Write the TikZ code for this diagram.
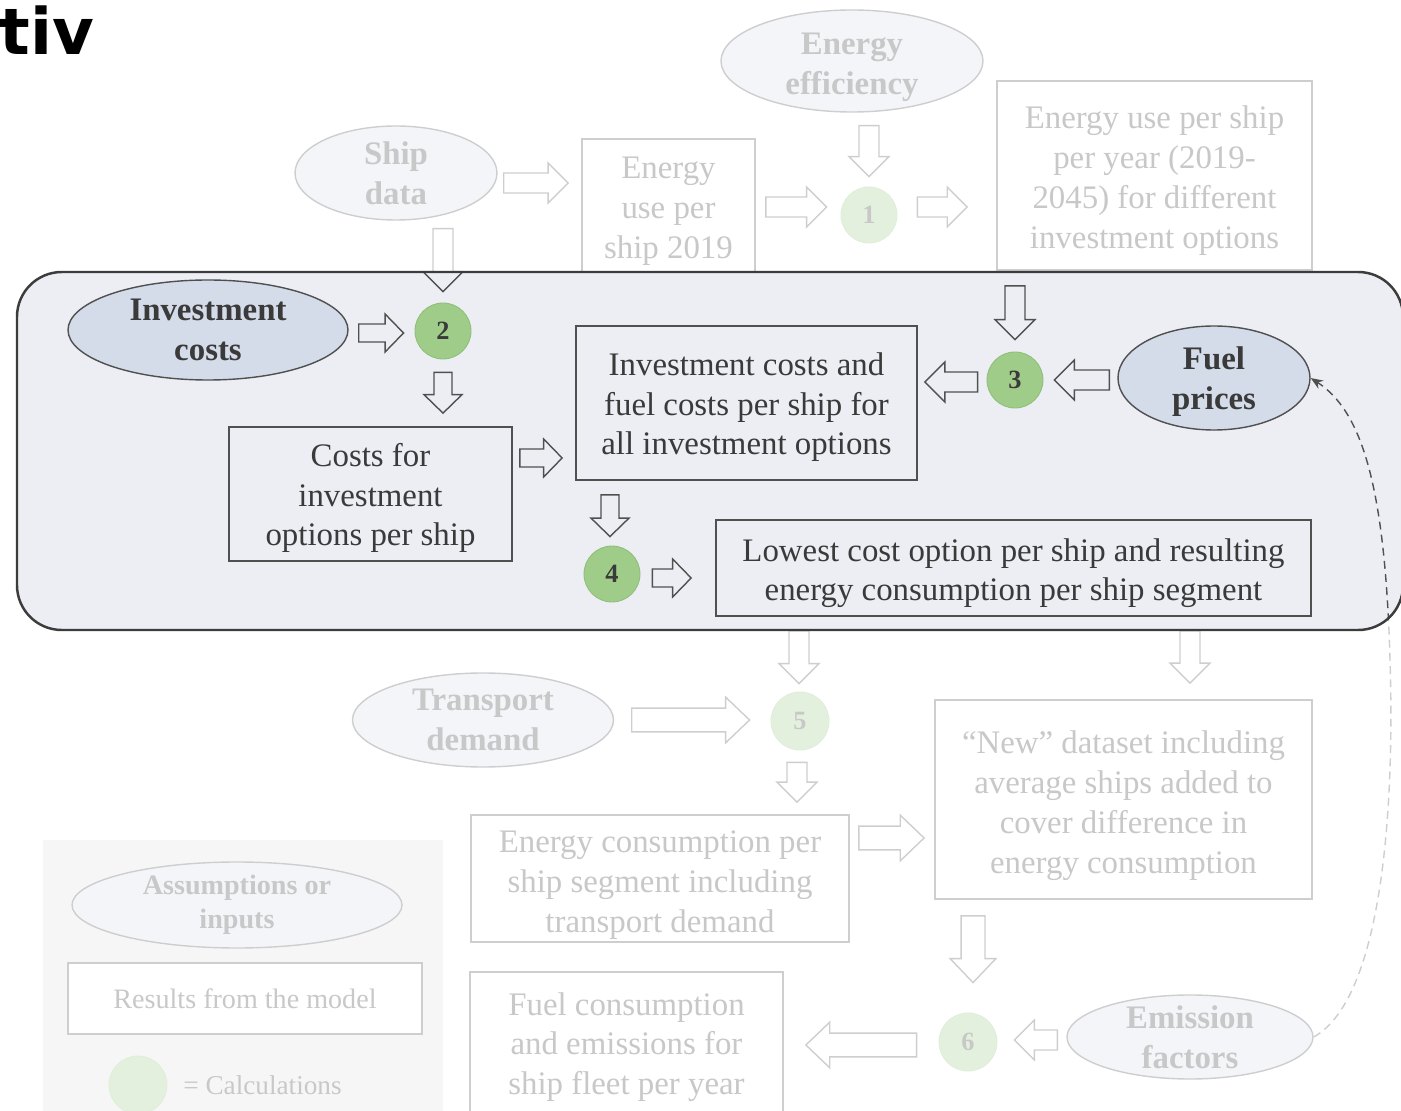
\documentclass[tikz,border=0pt]{standalone}
\usepackage{fontspec}
\setmainfont{Liberation Serif}
\newfontfamily\headfont{DejaVu Sans Bold}
\usetikzlibrary{shapes.geometric,calc,arrows.meta}

\definecolor{txt}{HTML}{3A3A3A}
\definecolor{edge}{HTML}{505050}
\definecolor{inpfill}{HTML}{D5DCE9}
\definecolor{calcfill}{HTML}{A0CC8A}
\definecolor{calcedge}{HTML}{8FBF7A}
\definecolor{zonefill}{HTML}{ECEEF3}
\definecolor{zoneedge}{HTML}{3C3C3C}
\definecolor{legendbg}{HTML}{E2E2E2}

% one pixel of the drawing grid
\newcommand\px{0.02cm}
% block arrow geometry (half shaft width, half head width, head length)
\newcommand\arrshaft{5.67pt}
\newcommand\arrhead{11.34pt}
\newcommand\arrlen{11.34pt}
% centred lines, set a little below the middle of their frame
\newcommand\lowered[2][2.83pt]{%
  \raisebox{-#1}[\height][\depth]{\begin{tabular}{@{}c@{}}#2\end{tabular}}}

\tikzset{
  arr shaft/.store in=\arrshaft,
  arr head/.store in=\arrhead,
  arr len/.store in=\arrlen,
  bigarrow/.style={arr shaft=6.8pt, arr head=13pt, arr len=13.6pt},
  smallarrow/.style={arr shaft=5.1pt, arr head=10.8pt, arr len=10.5pt},
  blockarrow/.style={draw=edge, line width=0.8pt, line join=miter},
  mainfont/.style={font=\fontsize{18.7}{22.7}\selectfont},
  inputnode/.style={ellipse, draw=edge, fill=inpfill, line width=0.8pt,
    align=center, text=txt, inner xsep=0pt, inner ysep=-8*\px,
    font=\fontsize{18.7}{22.7}\selectfont\bfseries},
  resultbox/.style={rectangle, draw=edge, line width=1pt, align=center,
    text=txt, inner sep=0pt, mainfont},
  calcnode/.style={circle, fill=calcfill, draw=calcedge, line width=0.5pt,
    text=txt, inner sep=0pt, minimum size=56*\px,
    font=\fontsize{15}{18}\selectfont\bfseries},
}

% hollow block arrow between two points
\newcommand\barr[3][]{%
  \draw[blockarrow,#1] let \p1=#2, \p2=#3,
    \n1={atan2(\y2-\y1,\x2-\x1)}, \n2={veclen(\x2-\x1,\y2-\y1)} in
    [shift={(\p1)}, rotate=\n1]
    (0pt,-\arrshaft) -- ({\n2-\arrlen},-\arrshaft) -- ({\n2-\arrlen},-\arrhead)
    -- ({\n2+0pt},0pt) -- ({\n2-\arrlen},\arrhead) -- ({\n2-\arrlen},\arrshaft)
    -- (0pt,\arrshaft) -- cycle;}

\begin{document}
\begin{tikzpicture}[x=0.02cm, y=-0.02cm]
\useasboundingbox (0,0) rectangle (1401,1111);
\clip (0,0) rectangle (1401,1111);

% highlighted cost-optimisation zone and legend panel
\fill[zonefill, rounded corners=25.5pt] (17,272) rectangle (1403,630);
\fill[legendbg] (43,840) rectangle (443,1115);

% inputs
\node[inputnode, minimum width=262*\px, minimum height=102*\px] (eff) at (852,61) {\lowered[3pt]{Energy\\efficiency}};
\node[inputnode, minimum width=202*\px, minimum height=94*\px] (ship) at (396,173) {Ship\\data};
\node[inputnode, minimum width=280*\px, minimum height=100*\px] (inv) at (208,330) {Investment\\costs};
\node[inputnode, minimum width=192*\px, minimum height=104*\px] (fp) at (1214,378) {\lowered[2.2pt]{Fuel\\prices}};
\node[inputnode, minimum width=261*\px, minimum height=94*\px] (tr) at (483,720) {Transport\\demand};
\node[inputnode, minimum width=246*\px, minimum height=84*\px] (ef) at (1190,1037) {Emission\\factors};

% results
\node[resultbox, minimum width=173*\px, minimum height=133*\px] (e2019) at (668.5,205.5) {\lowered{Energy\\use per\\ship 2019}};
\node[resultbox, minimum width=315*\px, minimum height=189*\px] (eyr) at (1154.5,175.5) {\lowered{Energy use per ship\\per year (2019-\\2045) for different\\investment options}};
\node[resultbox, minimum width=283*\px, minimum height=134*\px] (costs) at (370.5,494) {\lowered[2.3pt]{Costs for\\investment\\options per ship}};
\node[resultbox, minimum width=341*\px, minimum height=154*\px] (invfuel) at (746.5,403) {\lowered[2.3pt]{Investment costs and\\fuel costs per ship for\\all investment options}};
\node[resultbox, minimum width=595*\px, minimum height=96*\px] (lowest) at (1013.5,568) {\lowered{Lowest cost option per ship and resulting\\energy consumption per ship segment}};
\node[resultbox, minimum width=378*\px, minimum height=127*\px] (encons) at (660,878.5) {\lowered[3.4pt]{Energy consumption per\\ship segment including\\transport demand}};
\node[resultbox, minimum width=377*\px, minimum height=199*\px] (newds) at (1123.5,799.5) {\lowered[3.4pt]{“New” dataset including\\average ships added to\\cover difference in\\energy consumption}};
\node[resultbox, minimum width=313*\px, minimum height=144*\px] (fuelcons) at (626.5,1044) {\lowered[1.7pt]{Fuel consumption\\and emissions for\\ship fleet per year}};

% calculation steps
\node[calcnode] (c1) at (869,215) {1};
\node[calcnode] (c2) at (443,331) {2};
\node[calcnode] (c3) at (1015,380) {3};
\node[calcnode] (c4) at (612,574) {4};
\node[calcnode, minimum size=58*\px] (c5) at (800,721) {5};
\node[calcnode, minimum size=58*\px] (c6) at (968,1042) {6};

% flow arrows
\barr{([shift={(6,10)}]ship.east)}{([shift={(-13,-22.5)}]e2019.west)}
\barr{([shift={(10,1.5)}]e2019.east)}{([shift={(-14,-8)}]c1.west)}
\barr{([shift={(17,13)}]eff.south)}{([shift={(0,-10)}]c1.north)}
\barr{([shift={(20,-8)}]c1.east)}{([shift={(-29,31.5)}]eyr.west)}
\barr{([shift={(47,8)}]ship.south)}{([shift={(0,-11)}]c2.north)}
\barr{([shift={(-139.5,15)}]eyr.south)}{([shift={(0,-12)}]c3.north)}
\barr[smallarrow]{([shift={(10,3)}]inv.east)}{([shift={(-11,2)}]c2.west)}
\barr[smallarrow]{([shift={(0,13)}]c2.south)}{([shift={(72.5,-13)}]costs.north)}
\barr[smallarrow]{([shift={(7,-36)}]costs.east)}{([shift={(-13,55)}]invfuel.west)}
\barr{([shift={(-9,2)}]c3.west)}{([shift={(7,-21)}]invfuel.east)}
\barr{([shift={(-8,2)}]fp.west)}{([shift={(11,0)}]c3.east)}
\barr[smallarrow]{([shift={(-136.5,14)}]invfuel.south)}{([shift={(-2,-9)}]c4.north)}
\barr[smallarrow]{([shift={(12,4)}]c4.east)}{([shift={(-24,10)}]lowest.west)}
\barr{([shift={(-214.5,14)}]lowest.south)}{([shift={(-1,-8)}]c5.north)}
\barr{([shift={(176.5,14)}]lowest.south)}{([shift={(66.5,-16)}]newds.north)}
\barr[bigarrow]{([shift={(17.5,0)}]tr.east)}{([shift={(-21,-1)}]c5.west)}
\barr{([shift={(-3,12)}]c5.south)}{([shift={(137,-12)}]encons.north)}
\barr[bigarrow]{([shift={(9,-40.5)}]encons.east)}{([shift={(-10,38.5)}]newds.west)}
\barr[bigarrow]{([shift={(-150.5,16)}]newds.south)}{([shift={(5,-30)}]c6.north)}
\barr{([shift={(-9,3)}]ef.west)}{([shift={(17,-2)}]c6.east)}
\barr[bigarrow]{([shift={(-22,3)}]c6.west)}{([shift={(22,1)}]fuelcons.east)}

% feedback from emission factors to fuel prices
\coordinate (bend) at (1390,660);
\draw[edge, line width=0.8pt, dash pattern=on 4.5pt off 3pt,
      -{Stealth[length=7pt,width=5.5pt]}]
  (ef.east) .. controls (1380,1000) and (1395,820) .. (bend)
  .. controls (1385,480) and (1360,410) .. (fp.east);

% legend
\node[inputnode, minimum width=330*\px, minimum height=86*\px,
      font=\fontsize{16}{19.3}\selectfont\bfseries] (lgin) at (237,905) {Assumptions or\\inputs};
\node[resultbox, fill=white, minimum width=354*\px, minimum height=71*\px,
      font=\fontsize{16}{19.3}\selectfont] (lgres) at (245,998.5) {Results from the model};
\node[calcnode, minimum size=58*\px] (lgcalc) at (138,1085) {};
\node[anchor=west, inner sep=0pt, text=txt, font=\fontsize{15.5}{18}\selectfont] (lgtxt) at (183,1085) {= Calculations};

% everything outside the zone is shown faded
\fill[white, fill opacity=0.72, even odd rule] (-5,-5) rectangle (1410,1120)
  [rounded corners=25.5pt] (16,271) rectangle (1404,631);
\draw[zoneedge, line width=1.4pt, rounded corners=25.5pt] (17,272) rectangle (1403,630);

% heading fragment
\node[anchor=base west, inner sep=0pt, font=\headfont\fontsize{36.5}{40}\selectfont] (head) at (-1,55) {tiv};
\end{tikzpicture}
\end{document}
